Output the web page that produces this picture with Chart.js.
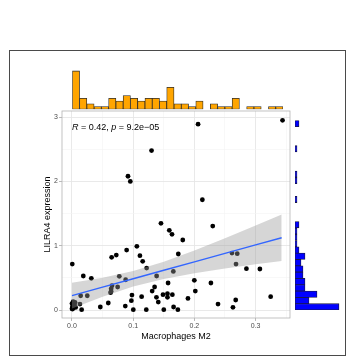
<!DOCTYPE html>
<html><head><meta charset="utf-8">
<script src="https://cdn.jsdelivr.net/npm/chart.js@4/dist/chart.umd.min.js"></script>
<style>
html,body{margin:0;padding:0;background:#fff;width:359px;height:359px;overflow:hidden;}
canvas{position:absolute;left:0;top:0;}
#frame{position:absolute;left:9px;top:50px;width:335px;height:304px;border:1.5px solid #4a4a4a;}
#ann{position:absolute;left:72px;top:122px;font:9px "Liberation Sans",Arial,sans-serif;line-height:10px;color:#000;white-space:nowrap;}
</style></head><body>
<div id="frame"></div>
<canvas id="main" width="359" height="359"></canvas>
<canvas id="topc" width="359" height="359"></canvas>
<canvas id="rightc" width="359" height="359"></canvas>
<div id="ann"><i>R</i> = 0.42, <i>p</i> = 9.2e−05</div>
<script>
// ---- data ----
const macrophagesM2 = [
 0.206,0.344,0.130,0.0915,0.0953,0.213,
 0.1454,0.159,0.1634,0.230,0.181,0.106,0.0648,0.0724,0.0893,0.111,0.1155,0.1737,0.2614,0.270,
 0.268,0.0005,0.285,0.307,0.122,0.1656,0.0185,0.0316,0.0773,0.0877,0.1383,0.0654,0.064,0.064,
 0.063,0.0746,0.1999,0.2015,0.227,0.157,0.135,0.131,0.0142,0.025,0.098,0.1138,0.138,0.1487,
 0.156,0.156,0.164,0.097,0.141,0.1895,0.3246,0.2675,0.2386,0.263,0.0593,0.0463,0.0871,0.166,
 0.0158,0.1002,0.1214,0.150,0.173,0.013,
 0.000,0.002,0.004,0.001,0.003,0.000,0.005,0.002,0.006,0.001,0.004,0.003
];
const lilra4Expression = [
 2.89,2.95,2.48,2.08,2.00,1.715,
 1.348,1.24,1.177,1.306,1.089,0.99,0.82,0.855,0.933,0.845,0.757,0.871,0.886,0.876,
 0.715,0.715,0.643,0.638,0.653,0.601,0.529,0.493,0.524,0.471,0.529,0.378,0.33,0.29,
 0.27,0.358,0.462,0.295,0.42,0.42,0.358,0.295,0.222,0.222,0.233,0.207,0.197,0.238,
 0.253,0.197,0.238,0.145,0.124,0.181,0.207,0.156,0.093,0.042,0.109,0.047,0.062,0.047,
 0.005,0.005,0.005,0.005,0.005,0.093,
 0.02,0.03,0.05,0.06,0.08,0.10,0.12,0.13,0.04,0.015,0.09,0.11
];
// regression fit and 95% confidence band
const fitX  = [0, 0.05, 0.10, 0.15, 0.20, 0.25, 0.30, 0.3426];
const fitY  = [0.223, 0.355, 0.486, 0.618, 0.749, 0.881, 1.012, 1.124];
const bandLo = [0.023, 0.207, 0.365, 0.484, 0.571, 0.644, 0.710, 0.764];
const bandHi = [0.423, 0.503, 0.607, 0.752, 0.927, 1.118, 1.314, 1.484];
// marginal histograms (counts per bin)
const topBinCounts = [14,4,2,1,1,4,3,5,4,3,4,4,3,8,2,2,1,3,0,2,1,1,4,0,1,1,0,1,1];
const rightBinCounts = [22,7,11,5,5,4,4,3,5,2,1,1,1,2,0,0,0,1,0,0,1,1,0,0,0,1,0,0,0,2];
// axes
const xTicksMajor = [0, 0.1, 0.2, 0.3];
const xTickLabels = ['0.0','0.1','0.2','0.3'];
const xTicksMinor = [0.05, 0.15, 0.25, 0.35];
const yTicksMajor = [0, 1, 2, 3];
const yTickLabels = ['0','1','2','3'];
const yTicksMinor = [0.5, 1.5, 2.5];
const xTitle = 'Macrophages M2';
const yTitle = 'LILRA4 expression';

// ---- styling ----
const FONT = '"Liberation Sans", Arial, sans-serif';
const GRID_MAJOR = '#e6e6e6', GRID_MINOR = '#f3f3f3', BORDER = '#b3b3b3', TICKTXT = '#4d4d4d';

function isIn(list, v){ return list.some(t => Math.abs(t - v) < 1e-9); }
function labelFor(majors, labels, v){ const i = majors.findIndex(t => Math.abs(t - v) < 1e-9); return i >= 0 ? labels[i] : ''; }

const panelBorder = {
  id: 'panelBorder',
  afterDatasetsDraw(chart){
    const a = chart.chartArea, c = chart.ctx;
    c.save(); c.strokeStyle = BORDER; c.lineWidth = 0.8;
    c.strokeRect(a.left, a.top, a.right - a.left, a.bottom - a.top);
    c.restore();
  }
};

const points = macrophagesM2.map((x, i) => ({x, y: lilra4Expression[i]}));

new Chart(document.getElementById('main'), {
  type: 'scatter',
  data: { datasets: [
    { type:'line', data: fitX.map((x,i)=>({x, y: fitY[i]})), borderColor:'#3366FF', borderWidth:1.4, pointRadius:0, fill:false, order:0 },
    { type:'line', data: fitX.map((x,i)=>({x, y: bandLo[i]})), borderWidth:0, pointRadius:0, fill:false, order:2 },
    { type:'line', data: fitX.map((x,i)=>({x, y: bandHi[i]})), borderWidth:0, pointRadius:0, fill:'-1', backgroundColor:'rgba(153,153,153,0.4)', order:1 },
    { data: points, backgroundColor:'#000', borderWidth:0, pointRadius:2.4, order:3 }
  ]},
  options: {
    responsive:false, animation:false, devicePixelRatio:1,
    layout: { padding: { left: 38.6, top: 111, right: 69, bottom: 16.6 } },
    plugins: { legend:{display:false}, tooltip:{enabled:false} },
    scales: {
      x: {
        type:'linear', min:-0.0163, max:0.3562,
        afterBuildTicks: s => { s.ticks = xTicksMajor.concat(xTicksMinor).sort((a,b)=>a-b).map(v=>({value:v})); },
        afterFit: s => { s.height = 24.4; },
        ticks: { callback: v => labelFor(xTicksMajor, xTickLabels, v), font:{family:FONT, size:7}, color:TICKTXT, padding:1, maxRotation:0, autoSkip:false },
        grid: { color: c => isIn(xTicksMajor, c.tick.value) ? GRID_MAJOR : GRID_MINOR, lineWidth: c => isIn(xTicksMajor, c.tick.value) ? 0.9 : 0.6,
                tickColor: c => isIn(xTicksMajor, c.tick.value) ? BORDER : 'rgba(0,0,0,0)', tickLength:3 },
        border: { display:false },
        title: { display:true, text:xTitle, font:{family:FONT, size:9}, color:'#000', padding:{top:0,bottom:0} }
      },
      y: {
        type:'linear', min:-0.124, max:3.095,
        afterBuildTicks: s => { s.ticks = yTicksMajor.concat(yTicksMinor).sort((a,b)=>a-b).map(v=>({value:v})); },
        afterFit: s => { s.width = 23.4; },
        ticks: { callback: v => labelFor(yTicksMajor, yTickLabels, v), font:{family:FONT, size:7}, color:TICKTXT, padding:1, autoSkip:false },
        grid: { color: c => isIn(yTicksMajor, c.tick.value) ? GRID_MAJOR : GRID_MINOR, lineWidth: c => isIn(yTicksMajor, c.tick.value) ? 0.9 : 0.6,
                tickColor: c => isIn(yTicksMajor, c.tick.value) ? BORDER : 'rgba(0,0,0,0)', tickLength:3 },
        border: { display:false },
        title: { display:true, text:yTitle, font:{family:FONT, size:9}, color:'#000', padding:{top:4,bottom:0} }
      }
    }
  },
  plugins: [panelBorder]
});

new Chart(document.getElementById('topc'), {
  type: 'bar',
  data: { labels: topBinCounts.map((_, i) => 'bin' + (i+1)),
    datasets: [{ data: topBinCounts, backgroundColor:'#FFA500', borderColor:'#2b2b2b', borderWidth:0.8, borderSkipped:false, barPercentage:1, categoryPercentage:1 }] },
  options: {
    responsive:false, animation:false, devicePixelRatio:1,
    layout: { padding: { left: 72.3, right: 76, top: 68.2, bottom: 249.7 } },
    plugins: { legend:{display:false}, tooltip:{enabled:false} },
    scales: { x:{ display:false }, y:{ display:false, min:0, max:15 } }
  }
});

new Chart(document.getElementById('rightc'), {
  type: 'bar',
  data: { labels: rightBinCounts.map((_, i) => 'bin' + (i+1)),
    datasets: [{ data: rightBinCounts, backgroundColor:'#0000FF', borderColor:'#1a1a40', borderWidth:0.8, borderSkipped:false, barPercentage:1, categoryPercentage:1 }] },
  options: {
    indexAxis:'y',
    responsive:false, animation:false, devicePixelRatio:1,
    layout: { padding: { left: 295, right: 14, top: 120.4, bottom: 49 } },
    plugins: { legend:{display:false}, tooltip:{enabled:false} },
    scales: { y:{ display:false, reverse:true }, x:{ display:false, min:0, max:25 } }
  }
});
</script>
</body></html>
